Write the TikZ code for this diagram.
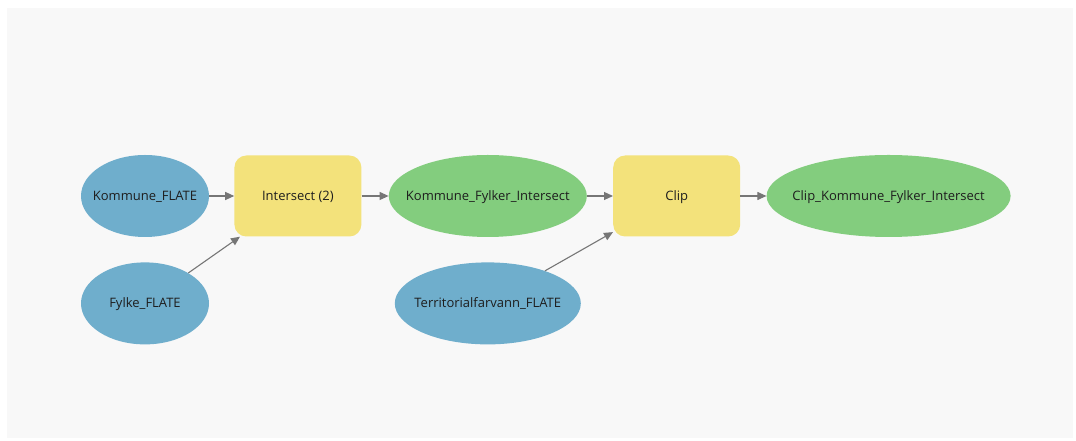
\documentclass[tikz,border=0pt]{standalone}
\usepackage{fontspec}
\setmainfont{Open Sans}
\usetikzlibrary{positioning,shapes.geometric,arrows.meta}
\definecolor{datasetcolor}{RGB}{111,174,204}
\definecolor{outputcolor}{RGB}{131,205,126}
\definecolor{toolcolor}{RGB}{243,226,123}
\definecolor{canvascolor}{RGB}{248,248,248}
\definecolor{linkcolor}{RGB}{118,118,118}
\definecolor{labelcolor}{RGB}{30,30,30}
% label that does not widen its ellipse
\newcommand{\flatlabel}[1]{\makebox[0pt]{#1}}

\begin{document}
\begin{tikzpicture}[x=1pt,y=1pt,
	font=\fontsize{13}{15}\selectfont,
	node distance=25pt,
	every node/.style={text height=9pt, text depth=0pt},
	dataset/.style={ellipse, fill=datasetcolor, text=labelcolor, minimum height=82pt, inner sep=0pt},
	output/.style={ellipse, fill=outputcolor, text=labelcolor, minimum height=82pt, inner sep=0pt},
	tool/.style={rectangle, rounded corners=12pt, fill=toolcolor, text=labelcolor, minimum width=127pt, minimum height=81pt, inner sep=0pt},
	link/.style={linkcolor, line width=1.1pt, -{Triangle[length=9pt,width=8pt]}}
	]

\useasboundingbox (0,0) rectangle (1076,441);
\fill[canvascolor] (7,3) rectangle (1073,433);

% Inputs and tools
\node[dataset, minimum width=128pt] (kommune) at (145,245) {\flatlabel{Kommune\_FLATE}};
\node[dataset, minimum width=128pt, below=25pt of kommune] (fylke) {\flatlabel{Fylke\_FLATE}};
\node[tool, right=25pt of kommune] (intersect) {Intersect (2)};
\node[output, minimum width=198pt, right=27pt of intersect] (kfi) {\flatlabel{Kommune\_Fylker\_Intersect}};
\node[dataset, minimum width=186pt, below=25pt of kfi] (terr) {\flatlabel{Territorialfarvann\_FLATE}};
\node[tool, right=26pt of kfi] (clip) {Clip};
\node[output, minimum width=244pt, right=26pt of clip] (clipkfi) {\flatlabel{Clip\_Kommune\_Fylker\_Intersect}};

% Links
\draw[link] (kommune) -- (intersect);
\draw[link] (fylke) -- (intersect);
\draw[link] (intersect) -- (kfi);
\draw[link] (kfi) -- (clip);
\draw[link] (terr) -- (clip);
\draw[link] (clip) -- (clipkfi);

\end{tikzpicture}
\end{document}
